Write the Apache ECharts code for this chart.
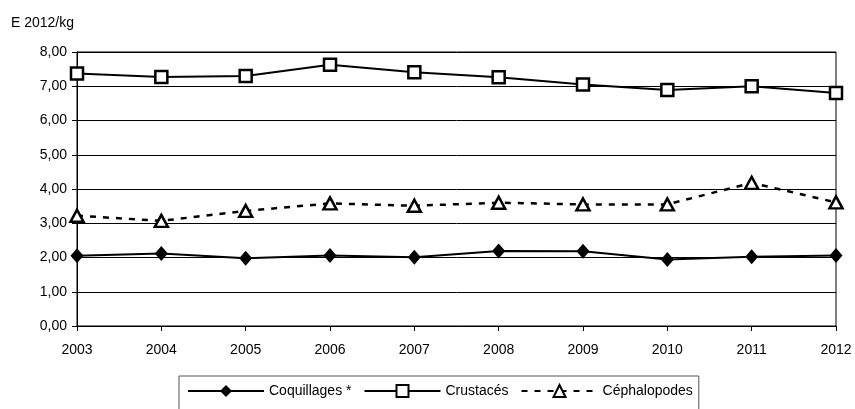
<!DOCTYPE html>
<html>
<head>
<meta charset="utf-8">
<script src="https://cdn.jsdelivr.net/npm/echarts@6/dist/echarts.min.js"></script>
<style>
  html, body { margin: 0; padding: 0; background: #fff; }
  #chart { width: 855px; height: 409px; }
</style>
</head>
<body>
<div id="chart"></div>
<script>
// Prix moyens en euros 2012 par kg, 2003-2012
const years = ['2003', '2004', '2005', '2006', '2007', '2008', '2009', '2010', '2011', '2012'];
const coquillages = [2.05, 2.12, 1.98, 2.06, 2.01, 2.19, 2.18, 1.94, 2.02, 2.06];
const crustaces = [7.37, 7.27, 7.30, 7.63, 7.41, 7.26, 7.05, 6.89, 7.00, 6.80];
const cephalopodes = [3.22, 3.07, 3.36, 3.58, 3.51, 3.60, 3.55, 3.55, 4.18, 3.61];
const yTicks = { min: 0, max: 8, interval: 1 };

const FONT = "'Liberation Sans', Arial, sans-serif";
const chart = echarts.init(document.getElementById('chart'), null, { renderer: 'canvas' });

chart.setOption({
  animation: false,
  backgroundColor: '#fff',
  title: {
    text: 'E 2012/kg',
    left: 11,
    top: 16,
    padding: 0,
    textStyle: { fontFamily: FONT, fontSize: 14, fontWeight: 'normal', color: '#000' }
  },
  grid: {
    left: 77, right: 19, top: 52, bottom: 83,
    show: true, borderColor: '#000', borderWidth: 1, containLabel: false
  },
  legend: {
    left: 179,
    top: 376,
    padding: [8, 6, 30, 8],
    itemWidth: 76,
    itemHeight: 15,
    itemGap: 12,
    borderColor: '#555',
    borderWidth: 1,
    textStyle: { fontFamily: FONT, fontSize: 14, color: '#000' },
    data: ['Coquillages *', 'Crustacés', 'Céphalopodes']
  },
  xAxis: {
    type: 'category',
    data: years,
    boundaryGap: false,
    axisLine: { lineStyle: { color: '#000', width: 1 } },
    axisTick: { show: true, length: 5, lineStyle: { color: '#000' } },
    axisLabel: { fontFamily: FONT, fontSize: 14, color: '#000', margin: 17 },
    splitLine: { show: false }
  },
  yAxis: {
    type: 'value',
    min: yTicks.min, max: yTicks.max, interval: yTicks.interval,
    axisLine: { show: true, lineStyle: { color: '#000', width: 1 } },
    axisTick: { show: true, length: 5, lineStyle: { color: '#000' } },
    axisLabel: {
      fontFamily: FONT, fontSize: 14, color: '#000', margin: 10,
      formatter: v => v.toFixed(2).replace('.', ',')
    },
    splitLine: { show: true, lineStyle: { color: '#000', width: 1 } }
  },
  series: [
    {
      name: 'Coquillages *',
      type: 'line',
      data: coquillages,
      symbol: 'diamond',
      symbolSize: [13, 15],
      lineStyle: { color: '#000', width: 2 },
      itemStyle: { color: '#000', borderColor: '#000', borderWidth: 0 },
      z: 3
    },
    {
      name: 'Crustacés',
      type: 'line',
      data: crustaces,
      symbol: 'rect',
      symbolSize: 12,
      lineStyle: { color: '#000', width: 2 },
      itemStyle: { color: '#fff', borderColor: '#000', borderWidth: 2.5 },
      z: 3
    },
    {
      name: 'Céphalopodes',
      type: 'line',
      data: cephalopodes,
      symbol: 'triangle',
      symbolSize: [13, 12],
      lineStyle: { color: '#000', width: 2.5, type: [6, 7] },
      itemStyle: { color: '#fff', borderColor: '#000', borderWidth: 2.5 },
      z: 3
    }
  ]
});
</script>
</body>
</html>
